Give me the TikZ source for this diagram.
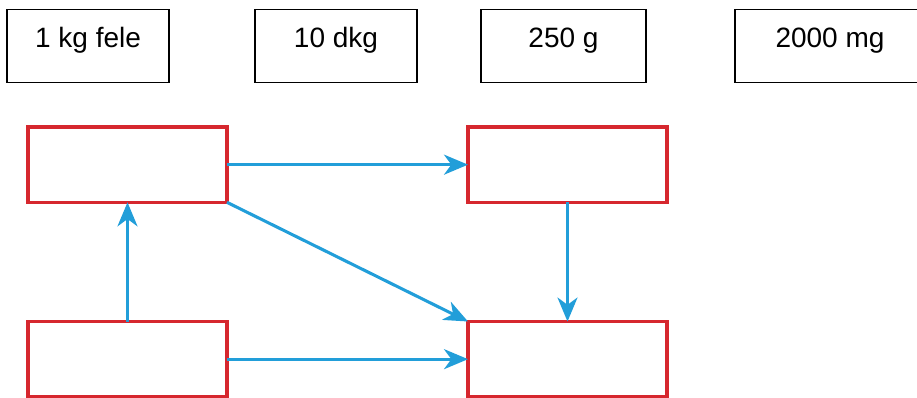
\documentclass[tikz,border=0pt]{standalone}
\usepackage{fontspec}
\setmainfont{Liberation Sans}
\usetikzlibrary{arrows.meta}

\definecolor{slotred}{RGB}{214,39,46}
\definecolor{flowblue}{RGB}{34,158,217}

\tikzset{
  unitbox/.style={draw, line width=1pt, inner sep=0pt, outer sep=0pt,
    anchor=north west, minimum width=#1, text height=28.3pt, text depth=26.5pt,
    font=\fontsize{21}{24}\selectfont},
  slot/.style={draw=slotred, line width=2.5pt, inner sep=0pt, outer sep=0pt,
    anchor=north west, minimum width=149.25pt, minimum height=56.5pt},
  flow/.style={draw=flowblue, line width=2.3pt,
    -{Stealth[length=18pt, width=15pt, inset=5.5pt]}}
}

\begin{document}
\begin{tikzpicture}[x=0.75pt, y=-0.75pt]
  \useasboundingbox (0,0) rectangle (917,397);

  %% units to sort
  \node [unitbox=121.5pt] (half) at (7,9.3) {1 kg fele};
  \node [unitbox=121.5pt] (dkg)  at (255,9.3) {10 dkg};
  \node [unitbox=123.75pt] (gram) at (481,9.3) {250 g};
  \node [unitbox=142.5pt] (mg)   at (735,9.3) {2000 mg};

  %% empty slots
  \node [slot] (a) at (28,127) {};
  \node [slot] (b) at (468,127) {};
  \node [slot] (c) at (28,321.5) {};
  \node [slot] (d) at (468,321.5) {};

  \draw [flow] (a.east) -- (b.west);
  \draw [flow] (a.south east) -- (d.north west);
  \draw [flow] (c.north) -- (a.south);
  \draw [flow] (b.south) -- (d.north);
  \draw [flow] (c.east) -- (d.west);

\end{tikzpicture}
\end{document}
